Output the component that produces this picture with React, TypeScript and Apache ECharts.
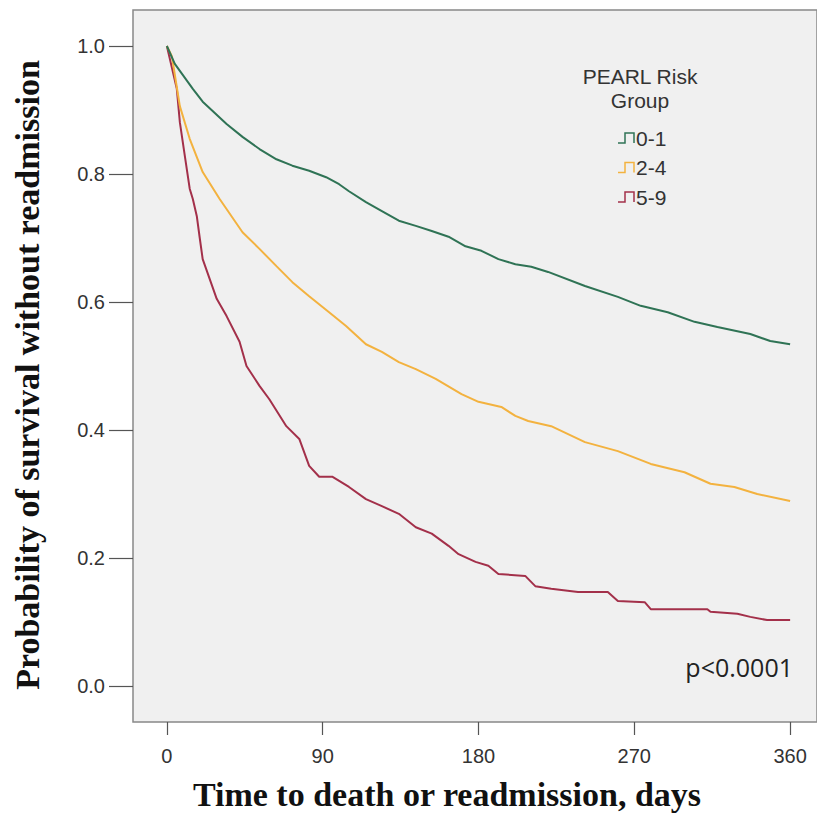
import React, { useEffect, useRef } from "react";
import * as echarts from "echarts";

const groups = ["0-1", "2-4", "5-9"];
const groupColors = ["#2f7355", "#f3b23f", "#a3304a"];
const legendTitle = ["PEARL Risk", "Group"];
const xTicks = [0, 90, 180, 270, 360];
const yTicks = [0, 0.2, 0.4, 0.6, 0.8, 1.0];
const xTitle = "Time to death or readmission, days";
const yTitle = "Probability of survival without readmission";
const pText = "p<0.0001";

const greenDays = [0, 4.6, 15, 20.7, 34.5, 43.7, 53.5, 63.3, 72.5, 82.2, 92, 99.5, 105.2, 115, 124.2, 134, 143.8, 153, 162.7, 172.5, 181.7, 191.5, 201.3, 210.5, 220.2, 241.5, 260.5, 273.7, 289.3, 304.8, 318, 337, 348.5, 360];
const greenSurv = [1.0, 0.972, 0.933, 0.913, 0.878, 0.858, 0.839, 0.823, 0.813, 0.805, 0.795, 0.784, 0.773, 0.756, 0.742, 0.727, 0.719, 0.711, 0.702, 0.687, 0.68, 0.667, 0.659, 0.655, 0.647, 0.625, 0.608, 0.594, 0.584, 0.569, 0.561, 0.55, 0.539, 0.534];

const orangeDays = [0, 2.9, 7.5, 13.2, 20.7, 30.5, 43.7, 53.5, 63.3, 72.5, 82.2, 93.7, 103.5, 115, 124.2, 134, 143.8, 155.3, 170.2, 180, 193.2, 201.3, 208.7, 222, 241.5, 260.5, 279.5, 299, 314, 327.8, 341, 360];
const orangeSurv = [1.0, 0.984, 0.906, 0.855, 0.803, 0.761, 0.709, 0.683, 0.656, 0.631, 0.609, 0.584, 0.5625, 0.534, 0.522, 0.506, 0.495, 0.48, 0.456, 0.444, 0.436, 0.422, 0.414, 0.406, 0.381, 0.367, 0.347, 0.334, 0.316, 0.311, 0.3, 0.289];

const redDays = [0, 5.75, 7.5, 10.4, 13.2, 15, 17.3, 19, 20.7, 28.8, 34.5, 42, 46, 53.5, 59.2, 69, 76.5, 82.2, 88, 95.5, 105.2, 115, 124.2, 134, 143.8, 153, 162.7, 168.5, 178.3, 185.7, 191.5, 207, 212.8, 222, 237.5, 254.7, 260.5, 276, 279.5, 312.2, 314, 329.5, 337, 346.7, 360];
const redSurv = [1.0, 0.933, 0.881, 0.828, 0.777, 0.761, 0.734, 0.7, 0.667, 0.605, 0.578, 0.538, 0.5, 0.469, 0.448, 0.406, 0.386, 0.344, 0.327, 0.327, 0.311, 0.292, 0.281, 0.269, 0.248, 0.238, 0.219, 0.206, 0.194, 0.188, 0.175, 0.172, 0.156, 0.152, 0.147, 0.147, 0.133, 0.131, 0.12, 0.12, 0.116, 0.113, 0.108, 0.103, 0.103];

const seriesDays = [greenDays, orangeDays, redDays];
const seriesSurv = [greenSurv, orangeSurv, redSurv];

export default function App() {
  const ref = useRef<HTMLDivElement>(null);
  useEffect(() => {
    if (!ref.current) return;
    const chart = echarts.init(ref.current, null, { renderer: "svg" });
    const pxPerDay = 626 / 360;
    const xMin = -34 / pxPerDay;
    const xMax = xMin + 687 / pxPerDay;
    const pxPerUnit = 640;
    const yMax = (686 - 10) / pxPerUnit;
    const yMin = -(722 - 686) / pxPerUnit;

    const legendItems: any[] = [];
    groups.forEach((g, i) => {
      const yc = 138 + i * 29.5;
      const x0 = 618;
      legendItems.push({
        type: "polyline",
        shape: { points: [[x0, yc + 5], [x0 + 7, yc + 5], [x0 + 7, yc - 5], [x0 + 16, yc - 5], [x0 + 16, yc + 5]] },
        style: { stroke: groupColors[i], lineWidth: 1.5, fill: null },
      });
      legendItems.push({
        type: "text",
        x: x0 + 18,
        y: yc,
        style: { text: g, font: "21px 'Liberation Sans', Arial", fill: "#333", verticalAlign: "middle" },
      });
    });

    chart.setOption({
      animation: false,
      backgroundColor: "#ffffff",
      grid: {
        left: 133,
        right: -3,
        top: 10,
        bottom: 815 - 722,
        show: true,
        backgroundColor: "#f0f0f0",
        borderColor: "#888888",
        borderWidth: 1.5,
      },
      xAxis: {
        type: "value",
        min: xMin,
        max: xMax,
        axisLine: { show: false, onZero: false },
        splitLine: { show: false },
        axisTick: { show: true, inside: false, length: 13, lineStyle: { color: "#555", width: 1.2 }, customValues: xTicks },
        axisLabel: {
          customValues: xTicks,
          margin: 24,
          fontSize: 20,
          fontFamily: "'Liberation Sans', Arial",
          color: "#333",
          formatter: (v: number) => String(Math.round(v)),
        },
      },
      yAxis: {
        type: "value",
        min: yMin,
        max: yMax,
        axisLine: { show: false, onZero: false },
        splitLine: { show: false },
        axisTick: { show: true, inside: false, length: 24, lineStyle: { color: "#555", width: 1.2 }, customValues: yTicks },
        axisLabel: {
          customValues: yTicks,
          margin: 28,
          fontSize: 20,
          fontFamily: "'Liberation Sans', Arial",
          color: "#333",
          formatter: (v: number) => v.toFixed(1),
        },
      },
      series: seriesDays.map((days, i) => ({
        type: "line",
        name: groups[i],
        data: days.map((d, j) => [d, seriesSurv[i][j]]),
        showSymbol: false,
        lineStyle: { color: groupColors[i], width: 2 },
        itemStyle: { color: groupColors[i] },
        z: 3 - i,
      })),
      graphic: [
        {
          type: "text",
          x: 447,
          y: 794,
          style: { text: xTitle, font: "bold 34px 'Liberation Serif', 'Times New Roman'", fill: "#111", align: "center", verticalAlign: "middle" },
        },
        {
          type: "text",
          x: 27,
          y: 375,
          rotation: Math.PI / 2,
          style: { text: yTitle, font: "bold 34px 'Liberation Serif', 'Times New Roman'", fill: "#111", align: "center", verticalAlign: "middle" },
        },
        {
          type: "text",
          x: 640,
          y: 76,
          style: { text: legendTitle[0], font: "21px 'Liberation Sans', Arial", fill: "#333", align: "center", verticalAlign: "middle" },
        },
        {
          type: "text",
          x: 640,
          y: 100,
          style: { text: legendTitle[1], font: "21px 'Liberation Sans', Arial", fill: "#333", align: "center", verticalAlign: "middle" },
        },
        ...legendItems,
        {
          type: "text",
          x: 793,
          y: 667,
          style: { text: pText, font: "25px 'Open Sans'", fill: "#222", align: "right", verticalAlign: "middle" },
        },
      ],
    });
    return () => chart.dispose();
  }, []);
  return <div ref={ref} style={{ position: "absolute", left: 0, top: 0, width: 817, height: 815 }} />;
}
